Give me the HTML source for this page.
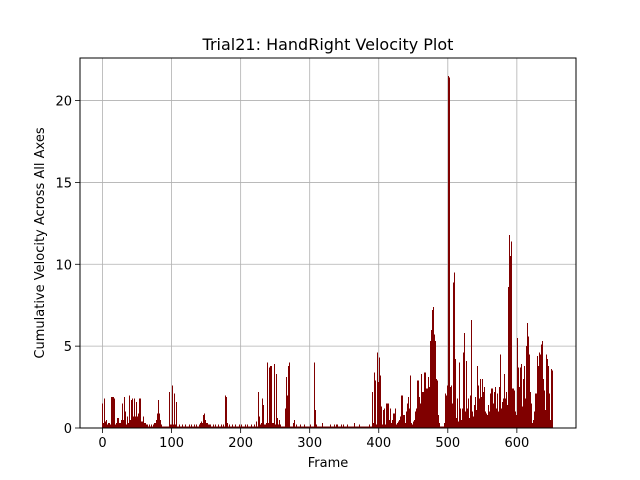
<!DOCTYPE html>
<html><head><meta charset="utf-8"><style>
html,body{margin:0;padding:0;background:#fff;}
svg{display:block;font-family:"DejaVu Sans","Liberation Sans",sans-serif;}
</style></head><body>
<svg id="chart" width="640" height="480" viewBox="0 0 640 480">
<rect width="640" height="480" fill="#fff"/>
<text x="328" y="50" font-size="16" text-anchor="middle" fill="#000">Trial21: HandRight Velocity Plot</text>
<g id="grid"></g>
<g id="bars" shape-rendering="crispEdges"></g>
<rect x="80" y="58" width="496" height="370" fill="none" stroke="#000" stroke-width="1"/>
<g id="xticks"></g>
<g id="yticks"></g>
<text x="328" y="467" font-size="13" text-anchor="middle">Frame</text>
<text x="0" y="0" font-size="13" text-anchor="middle" transform="translate(44,243) rotate(-90)">Cumulative Velocity Across All Axes</text>
</svg>
<script>
const xTicks = [0,100,200,300,400,500,600];
const yTicks = [0,5,10,15,20];
const velocity = [
1.5,0.3,0.3,1.8,0.4,0.3,0.5,0.2,0.2,0.3,
0.2,0.3,0.2,1.9,1.8,1.9,1.9,1.8,0.3,0.2,
0.3,0.2,0.6,0.3,0.6,0.3,0.2,0.3,0.5,0.6,
1.5,0.5,1.9,1.0,0.3,0.2,0.5,0.7,0.3,2.0,
0.3,0.5,0.8,1.7,1.8,0.7,1.8,0.8,0.7,0.9,
1.6,0.7,0.9,0.8,1.8,0.6,1.8,0.4,0.4,0.7,
0.7,0.3,0.3,0.2,0.2,0.2,0.1,0.1,0.1,0.2,
0.1,0.1,0.2,0.1,0.2,0.2,0.3,0.3,0.4,0.5,
0.9,1.0,1.7,0.9,0.5,0.3,0.2,0.1,0.1,0.1,
0.1,0.1,0.1,0.1,0.1,0.1,0.1,0.1,2.2,0.2,
0.2,0.3,2.6,0.2,1.4,2.1,0.2,0.2,1.6,0.1,
0.1,0.1,0.2,0.1,0.1,0.1,0.2,0.1,0.1,0.1,
0.1,0.2,0.1,0.1,0.1,0.1,0.2,0.1,0.1,0.2,
0.1,0.1,0.1,0.2,0.1,0.1,0.1,0.2,0.1,0.1,
0.1,0.2,0.3,0.3,0.4,0.3,0.5,0.8,0.9,0.5,
0.4,0.3,0.3,0.2,0.2,0.1,0.2,0.2,0.1,0.1,
0.1,0.2,0.1,0.1,0.2,0.1,0.1,0.1,0.2,0.1,
0.1,0.1,0.2,0.1,0.1,0.1,0.2,0.1,2.0,0.3,
1.9,0.3,0.1,0.1,0.2,0.1,0.1,0.1,0.1,0.2,
0.1,0.1,0.1,0.2,0.1,0.1,0.1,0.1,0.1,0.2,
0.1,0.1,0.2,0.1,0.1,0.1,0.1,0.2,0.1,0.1,
0.1,0.2,0.1,0.1,0.1,0.1,0.2,0.1,0.1,0.1,
0.1,0.2,0.1,0.4,0.1,0.1,2.2,0.7,0.7,0.2,
0.3,0.3,1.8,0.4,1.4,0.2,0.1,0.2,0.3,4.0,
3.9,0.3,3.7,3.8,0.3,3.8,0.2,0.3,0.3,3.9,
3.8,0.2,3.3,0.3,0.6,0.2,0.5,0.4,0.2,0.1,
0.1,0.1,0.1,0.1,0.1,0.2,1.2,3.1,2.0,3.8,
0.2,4.0,0.1,0.1,0.1,0.1,0.1,0.3,0.5,0.3,
0.1,0.1,0.2,0.1,0.1,0.1,0.1,0.2,0.1,0.1,
0.1,0.1,0.1,0.2,0.1,0.1,0.1,0.1,0.1,0.1,
0.1,0.1,0.2,0.1,0.1,0.1,0.1,4.0,3.1,1.1,
0.2,0.1,0.1,0.1,0.1,0.1,0.1,0.1,0.1,0.3,
0.1,0.1,0.1,0.1,0.1,0.1,0.1,0.1,0.1,0.1,
0.2,0.1,0.1,0.1,0.1,0.1,0.2,0.1,0.1,0.2,
0.1,0.2,0.1,0.1,0.1,0.1,0.1,0.2,0.1,0.2,
0.1,0.1,0.1,0.1,0.1,0.2,0.1,0.1,0.1,0.1,
0.1,0.1,0.1,0.1,0.1,0.1,0.3,0.1,0.1,0.1,
0.1,0.1,0.2,0.1,0.1,0.1,0.1,0.1,0.1,0.1,
0.1,0.1,0.1,0.1,0.1,0.1,0.1,0.2,0.1,0.1,
0.1,0.1,2.2,0.3,3.4,0.3,2.9,0.2,0.3,4.6,
2.8,4.3,1.6,3.2,1.0,1.3,0.2,1.1,0.3,1.2,
0.2,1.5,0.3,1.5,0.3,1.5,0.5,1.2,0.3,0.3,
0.4,0.5,0.9,0.9,1.2,0.3,0.2,0.3,0.3,0.4,
0.4,0.5,0.7,0.8,2.0,2.0,0.8,0.8,0.8,0.3,
0.5,1.0,1.5,1.5,1.9,1.2,3.2,3.2,0.3,0.2,
0.3,0.4,0.5,0.7,1.0,1.2,2.9,0.8,2.9,1.9,
1.9,1.5,3.3,2.0,2.2,2.2,1.6,3.4,3.4,2.0,
2.4,2.4,2.8,3.1,2.5,5.3,5.3,6.0,7.2,7.4,
6.8,5.7,5.3,5.1,3.0,2.9,2.7,0.8,0.3,0.1,
0.1,0.1,0.1,0.1,0.1,0.2,0.3,2.1,2.0,1.0,
2.6,0.3,21.5,21.4,2.5,1.2,2.6,1.5,8.9,3.9,
9.5,4.2,1.6,0.6,1.8,1.4,0.4,1.3,4.0,1.2,
0.5,1.2,0.8,4.6,3.2,5.8,1.0,4.1,1.0,1.2,
1.0,1.8,0.6,2.0,6.4,6.6,1.0,0.5,0.7,1.4,
1.4,1.9,1.1,2.0,3.8,2.6,1.8,1.8,3.0,1.9,
1.8,3.0,2.2,2.5,1.2,1.0,0.9,0.5,0.8,1.0,
1.4,1.0,2.1,2.4,1.6,2.4,1.5,0.8,2.2,1.8,
2.5,1.2,1.8,2.1,1.0,2.5,0.8,4.5,1.2,1.6,
1.0,1.8,3.3,1.2,1.8,2.2,1.0,1.4,2.0,8.6,
11.8,10.5,11.4,9.3,2.4,2.4,1.2,2.3,1.0,1.0,
0.8,2.0,5.5,3.7,2.5,3.7,1.0,3.9,0.4,1.3,
3.0,3.6,3.8,1.8,4.5,5.0,6.4,5.6,4.5,3.9,
2.2,1.5,0.9,0.3,0.4,0.5,1.0,1.5,2.1,2.1,
3.3,4.4,3.8,4.6,4.4,4.5,5.1,5.3,4.2,3.0,
1.5,2.3,1.1,2.1,4.5,4.2,3.8,2.1,1.0,0.5,
3.6,0.3,3.5
];
const NS = 'http://www.w3.org/2000/svg';
const X0 = 80, X1 = 576, Y0 = 58, Y1 = 428;
const xMin = -32.65, xMax = 685.65, yMin = 0, yMax = 22.6;
function sx(v){ return X0 + (v - xMin) / (xMax - xMin) * (X1 - X0); }
function sy(v){ return Y1 - (v - yMin) / (yMax - yMin) * (Y1 - Y0); }
const grid = document.getElementById('grid');
const bars = document.getElementById('bars');
const xt = document.getElementById('xticks');
const yt = document.getElementById('yticks');
function mk(tag, attrs, parent){ const e = document.createElementNS(NS, tag); for (const k in attrs) e.setAttribute(k, attrs[k]); parent.appendChild(e); return e; }
xTicks.forEach(t => {
  const x = sx(t);
  const g = mk('line', {x1:x, x2:x, y1:Y0, y2:Y1, stroke:'#b0b0b0', 'stroke-width':0.8}, grid);
  
  
  const tk = mk('line', {x1:x, x2:x, y1:Y1, y2:Y1+5, stroke:'#000', 'stroke-width':0.8}, xt);
  
  
  const lb = mk('text', {x:x, y:Y1+19, 'font-size':13, 'text-anchor':'middle'}, xt);
  lb.textContent = t;
  
  
});
yTicks.forEach(t => {
  const y = sy(t);
  const g = mk('line', {x1:X0, x2:X1, y1:y, y2:y, stroke:'#b0b0b0', 'stroke-width':0.8}, grid);
  
  
  const tk = mk('line', {x1:X0-5, x2:X0, y1:y, y2:y, stroke:'#000', 'stroke-width':0.8}, yt);
  
  
  const lb = mk('text', {x:X0-8, y:y+5, 'font-size':13, 'text-anchor':'end'}, yt);
  lb.textContent = t;
  
  
});
velocity.forEach((v, i) => {
  const xl = sx(i - 0.4);
  const r = mk('rect', {x:Math.floor(xl), y:sy(v), width:1, height:Y1 - sy(v), fill:'#800000'}, bars);
  
  
});
</script>
</body></html>
